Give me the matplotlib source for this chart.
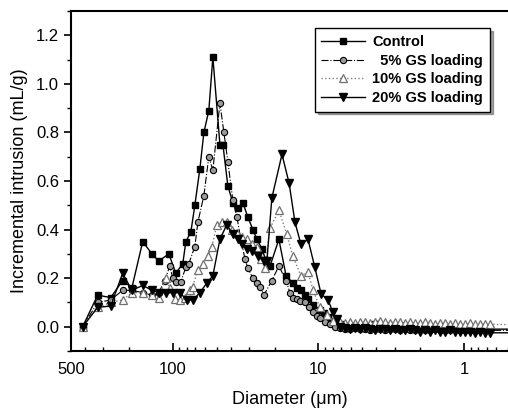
import numpy as np
import matplotlib
matplotlib.use("Agg")
import matplotlib.pyplot as plt
from matplotlib.ticker import FixedLocator, NullFormatter, MultipleLocator, LogLocator

plt.rcParams['font.family'] = ['Liberation Sans', 'DejaVu Sans']

# 数据：孔径 (um) 与增量侵入量 (mL/g)
diam_control = [416, 328, 267, 221, 191, 161, 139, 125, 106.5, 95.4, 85.4, 81.4, 75.2, 70.6, 65.2,
                61.2, 56.6, 53.1, 47.5, 45.3, 41.9, 38.7, 35.8, 33.0, 30.5, 28.2, 26.5, 24.4, 22.9, 21.5,
                18.7, 16.7, 15.0, 14.1, 13.2, 12.4, 11.8, 10.9, 9.77, 9.2, 8.6, 8.21, 7.70]
incr_control = [0.00, 0.13, 0.12, 0.19, 0.16, 0.35, 0.30, 0.27, 0.30, 0.22, 0.26, 0.35, 0.39, 0.50, 0.65,
                0.80, 0.89, 1.11, 0.75, 0.75, 0.58, 0.51, 0.49, 0.51, 0.45, 0.40, 0.36, 0.32, 0.27, 0.25,
                0.36, 0.21, 0.18, 0.16, 0.15, 0.13, 0.115, 0.09, 0.07, 0.055, 0.04, 0.025, 0.015]

diam_gs5 = [416, 328, 267, 221, 191, 161, 139, 125, 113.5, 105, 100, 95.4, 88.1, 81.4, 77.6,
            70.6, 67.3, 61.2, 56.6, 53.1, 47.5, 44.6, 41.9, 38.7, 36.3, 34.1, 32.0, 30.5, 28.2, 26.5,
            25.2, 23.7, 20.9, 18.7, 16.7, 15.7, 15.0, 14.1, 13.4, 12.4, 11.6, 10.9, 10.2, 9.77, 9.02,
            8.3, 7.70]
incr_gs5 = [0.00, 0.10, 0.11, 0.15, 0.15, 0.14, 0.13, 0.14, 0.19, 0.25, 0.20, 0.185, 0.185, 0.245, 0.26,
            0.33, 0.43, 0.54, 0.70, 0.645, 0.92, 0.80, 0.68, 0.52, 0.45, 0.36, 0.28, 0.24, 0.20, 0.18,
            0.165, 0.13, 0.19, 0.25, 0.19, 0.14, 0.12, 0.115, 0.105, 0.10, 0.08, 0.06, 0.045, 0.035, 0.02,
            0.01, 0.00]

diam_gs10 = [416, 328, 267, 221, 191, 161, 139, 125, 111.7, 105, 96.9, 89.5, 82.7, 76.4, 72.9,
             67.3, 62.2, 57.5, 54.0, 49.8, 46.0, 42.6, 39.3, 36.3, 33.6, 31.0, 28.6, 26.5, 24.8, 23.3,
             21.5, 18.7, 16.5, 15.0, 13.2, 11.8, 10.9, 9.77, 8.7, 7.96]
incr_gs10 = [0.00, 0.08, 0.10, 0.11, 0.14, 0.14, 0.13, 0.12, 0.20, 0.16, 0.115, 0.11, 0.12, 0.15, 0.165,
             0.235, 0.26, 0.29, 0.33, 0.42, 0.43, 0.43, 0.40, 0.385, 0.37, 0.36, 0.34, 0.33, 0.28, 0.24,
             0.405, 0.48, 0.38, 0.29, 0.21, 0.225, 0.15, 0.08, 0.05, 0.025]

diam_gs20 = [416, 328, 267, 221, 191, 161, 139, 125, 111.7, 100, 89.5, 80.1, 72.9, 65.2, 58.4,
             53.1, 47.5, 42.6, 38.7, 35.8, 33.6, 31.0, 28.6, 26.0, 23.7, 22.6, 20.9, 17.8, 15.9, 14.5,
             13.2, 11.8, 10.6, 9.6, 8.6, 7.96, 7.46]
incr_gs20 = [0.00, 0.08, 0.085, 0.22, 0.15, 0.17, 0.15, 0.14, 0.14, 0.14, 0.14, 0.11, 0.11, 0.14, 0.18,
             0.21, 0.36, 0.42, 0.38, 0.36, 0.34, 0.32, 0.31, 0.29, 0.27, 0.27, 0.53, 0.71, 0.59, 0.43,
             0.34, 0.36, 0.245, 0.135, 0.11, 0.06, 0.03]

# 小孔径尾部（各样品共用的孔径点）
diam_tail = [7.11, 6.57, 6.07, 5.61, 5.19, 4.79, 4.43, 4.09, 3.78, 3.49, 3.23, 2.98, 2.75, 2.54, 2.35,
             2.17, 2.01, 1.85, 1.71, 1.58, 1.46, 1.35, 1.25, 1.15, 1.07, 0.98, 0.91, 0.84, 0.78, 0.72,
             0.66, 0.42]
tail_control = [0.01, 0.005, 0.0, 0.005, 0.0, 0.0, 0.005, 0.01, 0.005, 0.0, 0.005, 0.0, 0.0, 0.005, 0.0,
                0.0, -0.005, 0.0, 0.0, -0.005, 0.0, -0.005, 0.0, 0.0, -0.005, -0.005, 0.0, -0.005, -0.005, -0.005,
                -0.01, -0.01]
tail_gs5 = [-0.005, -0.01, -0.01, -0.005, -0.01, -0.01, -0.015, -0.01, -0.01, -0.015, -0.01, -0.01, -0.015, -0.01, -0.015,
            -0.015, -0.01, -0.015, -0.015, -0.01, -0.015, -0.015, -0.015, -0.01, -0.015, -0.015, -0.015, -0.015, -0.015, -0.015,
            -0.015, -0.015]
tail_gs10 = [0.02, 0.015, 0.02, 0.015, 0.02, 0.02, 0.015, 0.02, 0.025, 0.02, 0.015, 0.02, 0.02, 0.015, 0.02,
             0.015, 0.015, 0.02, 0.015, 0.01, 0.015, 0.015, 0.01, 0.015, 0.01, 0.01, 0.015, 0.01, 0.01, 0.01,
             0.01, 0.008]
tail_gs20 = [0.0, -0.005, -0.01, -0.005, -0.01, -0.005, -0.01, -0.015, -0.01, -0.01, -0.015, -0.01, -0.015, -0.015, -0.01,
             -0.015, -0.02, -0.015, -0.02, -0.015, -0.02, -0.02, -0.015, -0.02, -0.02, -0.02, -0.02, -0.025, -0.02, -0.025,
             -0.025, -0.025]

labels = ["Control", "  5% GS loading", "10% GS loading", "20% GS loading"]

series = [
    (diam_control, incr_control, tail_control,
     dict(color='black', ls='-', lw=1.0, marker='s', ms=4.5, mfc='black', mec='black')),
    (diam_gs5, incr_gs5, tail_gs5,
     dict(color='black', ls='-.', lw=0.8, marker='o', ms=4.5, mfc='#9a9a9a', mec='black', mew=0.8)),
    (diam_gs10, incr_gs10, tail_gs10,
     dict(color='#808080', ls=':', lw=1.0, marker='^', ms=5.5, mfc='white', mec='#707070', mew=0.9)),
    (diam_gs20, incr_gs20, tail_gs20,
     dict(color='black', ls='-', lw=1.0, marker='v', ms=6, mfc='black', mec='black')),
]

fig = plt.figure(figsize=(5.08, 4.12), dpi=100)
ax = fig.add_axes([71 / 508, 61 / 412, 1 - 71 / 508, 340 / 412])

for (d, v, t, style), lab in zip(series, labels):
    x = np.array(d + diam_tail)
    y = np.array(v + t)
    ax.plot(x, y, label=lab, **style)

ax.set_xscale('log')
ax.set_xlim(500, 0.5)
ax.set_ylim(-0.1, 1.3)

ax.xaxis.set_major_locator(FixedLocator([500, 100, 10, 1]))
ax.set_xticklabels(["500", "100", "10", "1"])
ax.xaxis.set_minor_locator(LogLocator(base=10, subs=np.arange(2, 10)))
ax.xaxis.set_minor_formatter(NullFormatter())
ax.tick_params(axis='x', which='major', direction='in', length=6, width=1.2, labelsize=12, pad=8)
ax.tick_params(axis='x', which='minor', direction='in', length=3, width=1.0)

ax.yaxis.set_major_locator(MultipleLocator(0.2))
ax.yaxis.set_minor_locator(MultipleLocator(0.1))
ax.set_yticks([0.0, 0.2, 0.4, 0.6, 0.8, 1.0, 1.2])
ax.set_yticklabels(["0.0", "0.2", "0.4", "0.6", "0.8", "1.0", "1.2"])
ax.tick_params(axis='y', which='major', direction='out', length=5, width=1.2, labelsize=12)
ax.tick_params(axis='y', which='minor', direction='out', length=3, width=1.0)

for side in ['left', 'bottom', 'top']:
    ax.spines[side].set_linewidth(1.5)
ax.spines['right'].set_visible(False)

ax.set_xlabel("Diameter (μm)", fontsize=13, labelpad=10)
ax.set_ylabel("Incremental intrusion (mL/g)", fontsize=13, labelpad=6)

leg = ax.legend(loc='upper right', bbox_to_anchor=(0.975, 0.97), frameon=True, fancybox=False,
                shadow=True, edgecolor='black', prop={'weight': 'bold', 'size': 10.5},
                handlelength=3.0, handletextpad=0.5, borderpad=0.45, labelspacing=0.32)
leg.get_frame().set_linewidth(1.0)

fig.savefig("out.png", dpi=100)
